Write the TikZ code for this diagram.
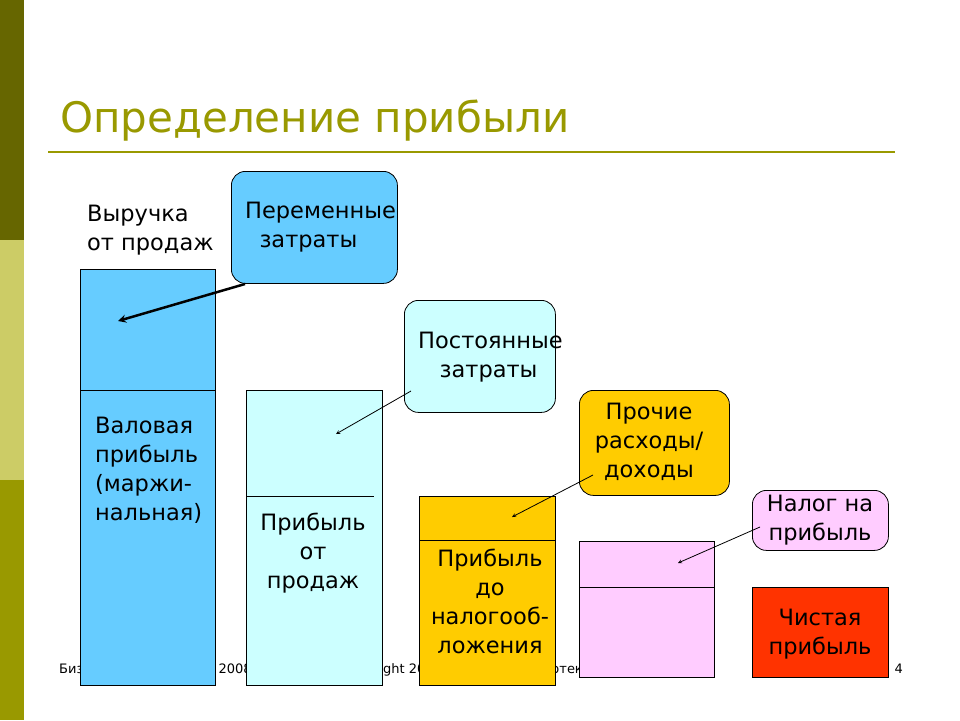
\documentclass[tikz,border=0pt]{standalone}
\usepackage{fontspec}
\setmainfont{DejaVu Sans}
\usetikzlibrary{positioning}
\definecolor{olivedark}{HTML}{666600}
\definecolor{olivelight}{HTML}{CCCC66}
\definecolor{olivemid}{HTML}{999900}
\definecolor{skyblue}{HTML}{66CCFF}
\definecolor{palecyan}{HTML}{CCFFFF}
\definecolor{goldbar}{HTML}{FFCC00}
\definecolor{palepink}{HTML}{FFCCFF}
\definecolor{redbar}{HTML}{FF3300}
\tikzstyle{bar} = [rectangle, draw=black, line width=0.8pt, inner sep=0pt]
\tikzstyle{callout} = [rectangle, rounded corners=14pt, draw=black, line width=0.8pt, inner sep=0pt]
\tikzstyle{txt} = [align=left, font=\fontsize{22.5}{29}\selectfont, inner sep=0pt]
\tikzstyle{ctxt} = [align=center, font=\fontsize{22.5}{29}\selectfont, inner sep=0pt]
\tikzstyle{foot} = [font=\fontsize{13}{15}\selectfont, inner sep=0pt]
\tikzstyle{pointer} = [->, >=stealth, line width=0.8pt]
\begin{document}
\begin{tikzpicture}[x=1pt, y=-1pt]
  \useasboundingbox (0,0) rectangle (960,720);
  % side strip
  \fill[olivedark] (0,0) rectangle (24,240);
  \fill[olivelight] (0,240) rectangle (24,480);
  \fill[olivemid] (0,480) rectangle (24,720);
  % title
  \node (title) [anchor=base west, text=olivemid, font=\fontsize{42}{46}\selectfont, inner sep=0pt] at (60,132) {Определение прибыли};
  \draw[olivemid, line width=1.5pt] (48,152) -- (895,152);
  % footer (partly hidden)
  \node (f1) [foot, anchor=base west] at (59,673) {Бизнес-планирование, 2008};
  \node (f2) [foot, anchor=base west] at (341,673) {Copyright 2008};
  \node (f3) [foot, anchor=base east] at (591,673) {Библиотека};
  \node (f4) [foot, anchor=base east] at (903,673) {4};
  % bars
  \node (blue) [bar, fill=skyblue, minimum width=135pt, minimum height=416pt, anchor=north west] at (80,269) {};
  \draw (80,390) -- (215,390);
  \node (cyan) [bar, fill=palecyan, minimum width=136pt, minimum height=295pt, anchor=north west] at (246,390) {};
  \draw (246,496) -- (374,496);
  \node (gold) [bar, fill=goldbar, minimum width=136pt, minimum height=189pt, anchor=north west] at (419,496) {};
  \draw (419,540) -- (555,540);
  \node (pink) [bar, fill=palepink, minimum width=135pt, minimum height=136pt, anchor=north west] at (579,541) {};
  \draw (579,587) -- (714,587);
  \node (red) [bar, fill=redbar, minimum width=136pt, minimum height=90pt, anchor=north west] at (752,587) {};
  % bar texts
  \node (rev) [txt, anchor=north west] at (87,205) {Выручка\\от продаж};
  \node (gross) [txt, anchor=north west] at (95,417) {Валовая\\прибыль\\(маржи-\\нальная)};
  \node (sales) [ctxt, anchor=north] at (313,513) {Прибыль\\от\\продаж};
  \node (pretax) [ctxt, anchor=north] at (490,549) {Прибыль\\до\\налогооб-\\ложения};
  \node (net) [ctxt, anchor=center] at (820,634) {Чистая\\прибыль};
  % callouts
  \node (var) [callout, fill=skyblue, minimum width=166pt, minimum height=112pt, anchor=north west] at (231,171) {};
  \node (varT) [txt, anchor=north west] at (245,202) {Переменные\\\ \ затраты};
  \node (fix) [callout, fill=palecyan, minimum width=151pt, minimum height=112pt, anchor=north west] at (404,300) {};
  \node (fixT) [txt, anchor=north west] at (418,332) {Постоянные\\\ \ \ затраты};
  \node (oth) [callout, fill=goldbar, minimum width=150pt, minimum height=105pt, anchor=north west] at (579,390) {};
  \node (othT) [ctxt, anchor=north] at (649,403) {Прочие\\расходы/\\доходы};
  \node (tax) [callout, fill=palepink, minimum width=136pt, minimum height=60pt, anchor=north west] at (752,490) {};
  \node (taxT) [ctxt, anchor=center] at (820,520) {Налог на\\прибыль};
  % pointers
  \coordinate (sv) at (245,284);
  \coordinate (sf) at (411,391);
  \coordinate (so) at (593,475);
  \coordinate (st) at (760,527);
  \coordinate (pv) at (118,321);
  \coordinate (pf) at (336,434);
  \coordinate (po) at (512,517);
  \coordinate (pt) at (678,563);
  \draw[pointer, line width=2.5pt] (sv) -- (pv);
  \draw[pointer] (sf) -- (pf);
  \draw[pointer] (so) -- (po);
  \draw[pointer] (st) -- (pt);
\end{tikzpicture}
\end{document}
